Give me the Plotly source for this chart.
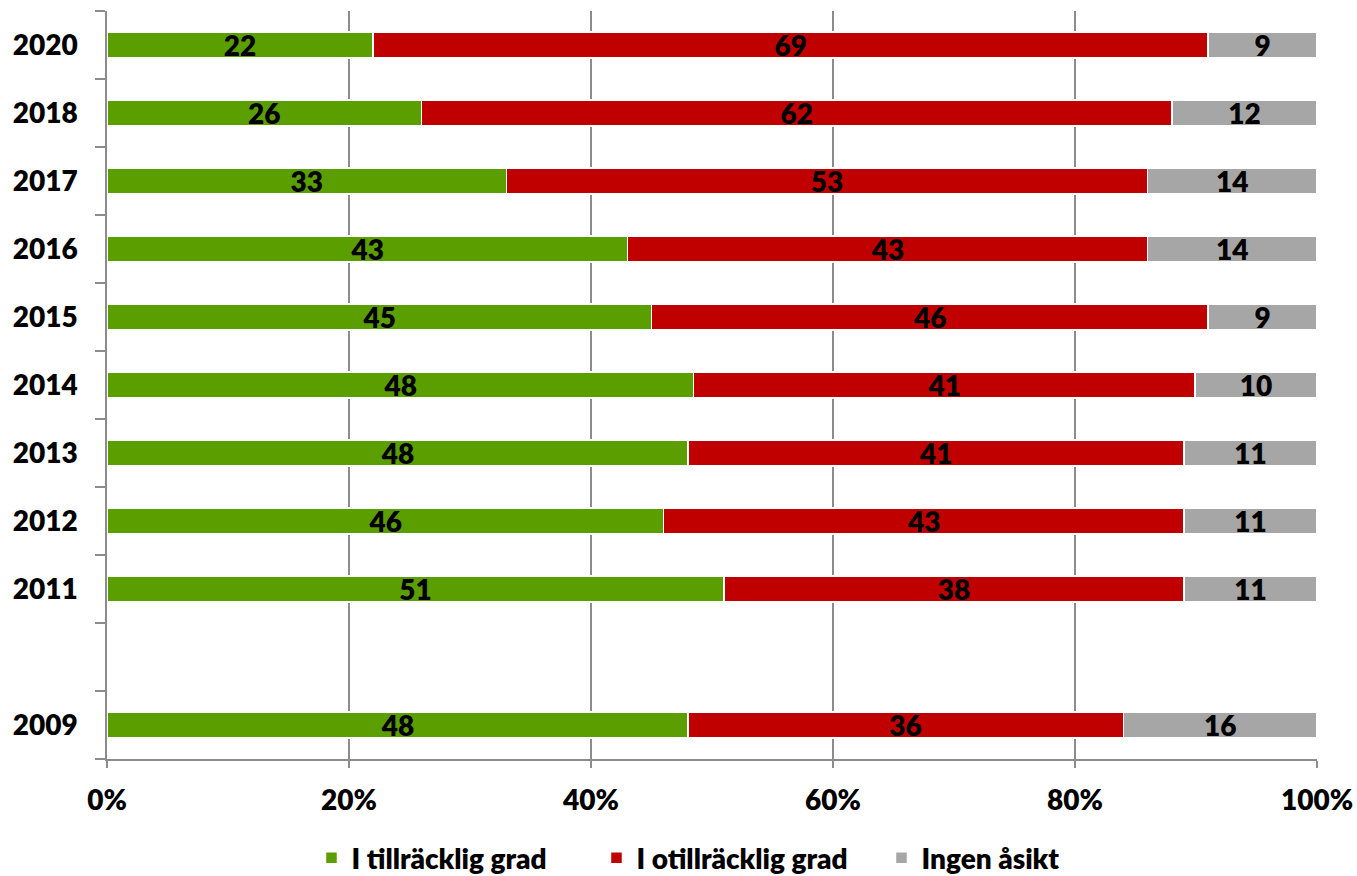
import plotly.graph_objects as go

years = ["2020", "2018", "2017", "2016", "2015", "2014", "2013", "2012", "2011", "2009"]
tillracklig = [22, 26, 33, 43, 45, 48, 48, 46, 51, 48]
otillracklig = [69, 62, 53, 43, 46, 41, 41, 43, 38, 36]
ingen_asikt = [9, 12, 14, 14, 9, 10, 11, 11, 11, 16]

# category order bottom -> top, with an empty slot for 2010
category_order = ["2009", " ", "2011", "2012", "2013", "2014", "2015", "2016", "2017", "2018", "2020"]

series = [
    ("I tillräcklig grad", tillracklig, "#5A9E00"),
    ("I otillräcklig grad", otillracklig, "#C00000"),
    ("Ingen åsikt", ingen_asikt, "#A6A6A6"),
]

FONT = "Lato"
SIZE = 28
WEIGHT = 800

fig = go.Figure()
for name, vals, color in series:
    fig.add_trace(go.Bar(
        y=years,
        x=vals,
        name=name,
        orientation="h",
        marker=dict(color=color, line=dict(color="white", width=1.5)),
        text=[str(v) for v in vals],
        textposition="inside",
        insidetextanchor="middle",
        constraintext="none",
        textangle=0,
        textfont=dict(family=FONT, size=SIZE, color="black", weight=WEIGHT),
    ))

fig.update_layout(
    barmode="stack",
    barnorm="percent",
    bargap=0.62,
    width=1357,
    height=876,
    margin=dict(l=107, r=40, t=11, b=117, autoexpand=False),
    plot_bgcolor="white",
    paper_bgcolor="white",
    font=dict(family=FONT, size=SIZE, color="black", weight=WEIGHT),
    legend=dict(
        orientation="h",
        x=0.169, xanchor="left",
        y=-0.1324, yanchor="middle",
        entrywidth=240,
        font=dict(family=FONT, size=SIZE, color="black", weight=WEIGHT),
        traceorder="normal",
    ),
    showlegend=True,
)

fig.update_xaxes(
    automargin=False,
    range=[0, 100],
    tickvals=[0, 20, 40, 60, 80, 100],
    ticktext=["0%", "20%", "40%", "60%", "80%", "100%"],
    showgrid=True,
    gridcolor="#8C8C8C",
    gridwidth=1.5,
    showline=True,
    linecolor="#8C8C8C",
    linewidth=1.5,
    ticks="outside",
    ticklen=7,
    tickcolor="#8C8C8C",
    tickwidth=1.5,
    ticklabelstandoff=9,
    tickfont=dict(family=FONT, size=SIZE, color="black", weight=WEIGHT),
    zeroline=False,
)

fig.update_yaxes(
    automargin=False,
    type="category",
    categoryorder="array",
    categoryarray=category_order,
    range=[-0.5, len(category_order) - 0.5],
    tickson="boundaries",
    ticks="outside",
    ticklen=10,
    tickcolor="#8C8C8C",
    tickwidth=1.5,
    showline=True,
    linecolor="#8C8C8C",
    linewidth=1.5,
    showgrid=False,
    ticklabelstandoff=22,
    tickfont=dict(family=FONT, size=SIZE, color="black", weight=WEIGHT),
)

# remove the page's default body margin so the figure fills the window exactly
fig.write_html(
    "out.html",
    config={"displayModeBar": False},
    post_script="document.body.style.margin='0';document.body.style.overflow='hidden';",
)
